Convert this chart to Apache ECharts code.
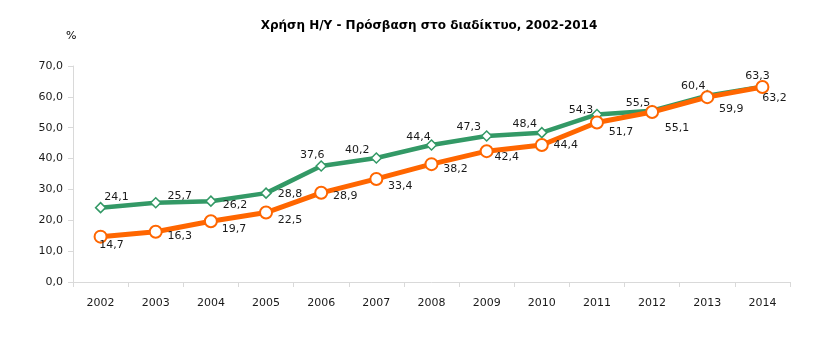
<!DOCTYPE html>
<html><head><meta charset="utf-8">
<script src="https://cdn.jsdelivr.net/npm/echarts@6/dist/echarts.min.js"></script>
<style>html,body{margin:0;padding:0;background:#fff}#c{width:826px;height:340px}</style>
</head><body><div id="c"></div>
<script>
const years = ['2002','2003','2004','2005','2006','2007','2008','2009','2010','2011','2012','2013','2014'];
const greenValues = [24.1,25.7,26.2,28.8,37.6,40.2,44.4,47.3,48.4,54.3,55.5,60.4,63.3];
const orangeValues = [14.7,16.3,19.7,22.5,28.9,33.4,38.2,42.4,44.4,51.7,55.1,59.9,63.2];
const titleText = 'Χρήση Η/Υ - Πρόσβαση στο διαδίκτυο, 2002-2014';
const unitText = '%';
// label offsets (styling, not data)
const greenLabelOffsets = [[16,-10],[24,-7],[24,4],[24,1],[-9,-11],[-19,-8],[-13,-8],[-18,-9],[-17,-9],[-16,-4],[-14,-8],[-14,-9],[-5,-11]];
const orangeLabelOffsets = [[11,9],[24,4],[23,8],[24,8],[24,3],[24,7],[24,5],[20,6],[24,0],[24,10],[25,16],[24,12],[12,11]];

const FONT = 'DejaVu Sans';
const fmt = v => v.toFixed(1).replace('.', ',');
function build(values, offsets) {
  return values.map((v, i) => ({
    value: v,
    label: { show: true, position: 'inside', offset: offsets[i], formatter: p => fmt(p.value), color: '#1a1a1a', fontSize: 11, fontFamily: FONT }
  }));
}
const chart = echarts.init(document.getElementById('c'));
chart.setOption({
  animation: false,
  backgroundColor: '#fff',
  title: [
    { text: titleText, left: 424, top: 15, textAlign: 'center', textStyle: { fontSize: 12, fontWeight: 'bold', fontFamily: FONT, color: '#000' } },
    { text: unitText, left: 61, top: 26, textStyle: { fontSize: 11, fontWeight: 'normal', fontFamily: FONT, color: '#000' } }
  ],
  grid: { left: 73, right: 36, top: 66, bottom: 58, containLabel: false },
  xAxis: {
    type: 'category', data: years, boundaryGap: true,
    axisLine: { lineStyle: { color: '#d9d9d9', width: 1 } },
    axisTick: { show: true, alignWithLabel: false, length: 5, lineStyle: { color: '#d9d9d9' } },
    axisLabel: { color: '#1a1a1a', fontSize: 11, fontFamily: FONT, margin: 16 },
    splitLine: { show: false }
  },
  yAxis: {
    type: 'value', min: 0, max: 70, interval: 10,
    axisLine: { show: true, lineStyle: { color: '#d9d9d9', width: 1 } },
    axisTick: { show: true, length: 5, lineStyle: { color: '#d9d9d9' } },
    axisLabel: { color: '#1a1a1a', fontSize: 11, fontFamily: FONT, margin: 10, formatter: v => fmt(v) },
    splitLine: { show: false }
  },
  series: [
    {
      name: 'Χρήση Η/Υ', type: 'line', data: build(greenValues, greenLabelOffsets),
      symbol: 'diamond', symbolSize: 10, z: 2,
      lineStyle: { color: '#339966', width: 4.5 },
      itemStyle: { color: '#fff', borderColor: '#339966', borderWidth: 1.5 }
    },
    {
      name: 'Πρόσβαση στο διαδίκτυο', type: 'line', data: build(orangeValues, orangeLabelOffsets),
      symbol: 'circle', symbolSize: 12, z: 3,
      lineStyle: { color: '#ff6600', width: 5 },
      itemStyle: { color: '#fff', borderColor: '#ff6600', borderWidth: 2 }
    }
  ]
});
</script></body></html>
